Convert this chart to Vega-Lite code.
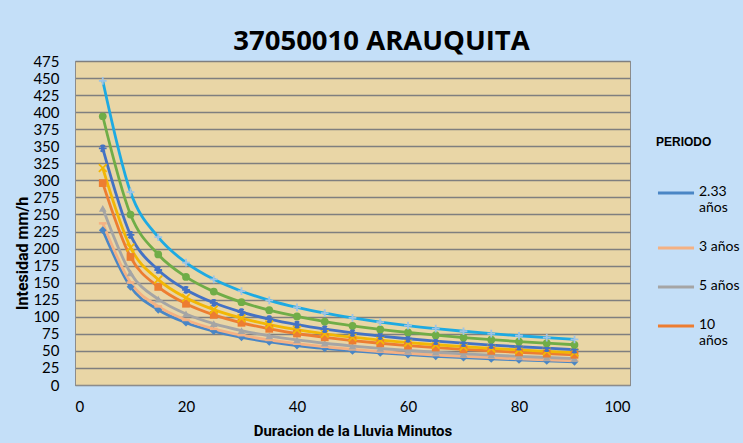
{
  "$schema": "https://vega.github.io/schema/vega-lite/v6.json",
  "width": 555,
  "height": 324,
  "autosize": {"type": "none"},
  "padding": {"left": 75, "top": 61, "right": 113, "bottom": 58},
  "background": "#C4DFF8",
  "title": {"text": "37050010 ARAUQUITA", "fontSize": 27.5, "font": "Open Sans", "fontWeight": "bold", "color": "#000000", "anchor": "middle", "dx": 29, "offset": -1},
  "config": {
    "view": {"fill": "#E9D6A6", "stroke": "#8c8c8c", "strokeWidth": 1},
    "axis": {"labelFont": "Lato", "labelFontSize": 15, "labelColor": "#000000", "titleFont": "Liberation Sans Narrow, Roboto, sans-serif", "titleFontSize": 15, "titleFontWeight": "bold", "titleColor": "#000000", "ticks": false, "domainColor": "#8c8c8c"},
    "point": {"filled": true, "size": 60, "strokeWidth": 1.6, "opacity": 1}
  },
  "data": {"values": [
    {"t":5,"s":"2.33 años","i":227},{"t":5,"s":"3 años","i":237},{"t":5,"s":"5 años","i":259},{"t":5,"s":"10 años","i":296},{"t":5,"s":"15 años","i":318},{"t":5,"s":"25 años","i":347},{"t":5,"s":"50 años","i":394},{"t":5,"s":"100 años","i":446},
    {"t":10,"s":"2.33 años","i":144.0},{"t":10,"s":"3 años","i":150.3},{"t":10,"s":"5 años","i":164.3},{"t":10,"s":"10 años","i":187.7},{"t":10,"s":"15 años","i":201.7},{"t":10,"s":"25 años","i":220.1},{"t":10,"s":"50 años","i":249.9},{"t":10,"s":"100 años","i":282.9},
    {"t":15,"s":"2.33 años","i":110.3},{"t":15,"s":"3 años","i":115.2},{"t":15,"s":"5 años","i":125.8},{"t":15,"s":"10 años","i":143.8},{"t":15,"s":"15 años","i":154.5},{"t":15,"s":"25 años","i":168.6},{"t":15,"s":"50 años","i":191.4},{"t":15,"s":"100 años","i":216.7},
    {"t":20,"s":"2.33 años","i":91.3},{"t":20,"s":"3 años","i":95.3},{"t":20,"s":"5 años","i":104.2},{"t":20,"s":"10 años","i":119.1},{"t":20,"s":"15 años","i":127.9},{"t":20,"s":"25 años","i":139.6},{"t":20,"s":"50 años","i":158.5},{"t":20,"s":"100 años","i":179.4},
    {"t":25,"s":"2.33 años","i":78.9},{"t":25,"s":"3 años","i":82.3},{"t":25,"s":"5 años","i":90.0},{"t":25,"s":"10 años","i":102.8},{"t":25,"s":"15 años","i":110.5},{"t":25,"s":"25 años","i":120.5},{"t":25,"s":"50 años","i":136.9},{"t":25,"s":"100 años","i":154.9},
    {"t":30,"s":"2.33 años","i":70.0},{"t":30,"s":"3 años","i":73.0},{"t":30,"s":"5 años","i":79.8},{"t":30,"s":"10 años","i":91.2},{"t":30,"s":"15 años","i":98.0},{"t":30,"s":"25 años","i":106.9},{"t":30,"s":"50 años","i":121.4},{"t":30,"s":"100 años","i":137.5},
    {"t":35,"s":"2.33 años","i":63.2},{"t":35,"s":"3 años","i":66.0},{"t":35,"s":"5 años","i":72.1},{"t":35,"s":"10 años","i":82.4},{"t":35,"s":"15 años","i":88.6},{"t":35,"s":"25 años","i":96.6},{"t":35,"s":"50 años","i":109.7},{"t":35,"s":"100 años","i":124.2},
    {"t":40,"s":"2.33 años","i":57.9},{"t":40,"s":"3 años","i":60.5},{"t":40,"s":"5 años","i":66.1},{"t":40,"s":"10 años","i":75.5},{"t":40,"s":"15 años","i":81.1},{"t":40,"s":"25 años","i":88.5},{"t":40,"s":"50 años","i":100.5},{"t":40,"s":"100 años","i":113.8},
    {"t":45,"s":"2.33 años","i":53.6},{"t":45,"s":"3 años","i":56.0},{"t":45,"s":"5 años","i":61.2},{"t":45,"s":"10 años","i":69.9},{"t":45,"s":"15 años","i":75.1},{"t":45,"s":"25 años","i":81.9},{"t":45,"s":"50 años","i":93.0},{"t":45,"s":"100 años","i":105.3},
    {"t":50,"s":"2.33 años","i":50.0},{"t":50,"s":"3 años","i":52.2},{"t":50,"s":"5 años","i":57.1},{"t":50,"s":"10 años","i":65.2},{"t":50,"s":"15 años","i":70.1},{"t":50,"s":"25 años","i":76.4},{"t":50,"s":"50 años","i":86.8},{"t":50,"s":"100 años","i":98.3},
    {"t":55,"s":"2.33 años","i":47.0},{"t":55,"s":"3 años","i":49.0},{"t":55,"s":"5 años","i":53.6},{"t":55,"s":"10 años","i":61.2},{"t":55,"s":"15 años","i":65.8},{"t":55,"s":"25 años","i":71.8},{"t":55,"s":"50 años","i":81.5},{"t":55,"s":"100 años","i":92.3},
    {"t":60,"s":"2.33 años","i":44.4},{"t":60,"s":"3 años","i":46.3},{"t":60,"s":"5 años","i":50.6},{"t":60,"s":"10 años","i":57.8},{"t":60,"s":"15 años","i":62.1},{"t":60,"s":"25 años","i":67.8},{"t":60,"s":"50 años","i":77.0},{"t":60,"s":"100 años","i":87.1},
    {"t":65,"s":"2.33 años","i":42.1},{"t":65,"s":"3 años","i":43.9},{"t":65,"s":"5 años","i":48.0},{"t":65,"s":"10 años","i":54.9},{"t":65,"s":"15 años","i":59.0},{"t":65,"s":"25 años","i":64.3},{"t":65,"s":"50 años","i":73.0},{"t":65,"s":"100 años","i":82.7},
    {"t":70,"s":"2.33 años","i":40.1},{"t":70,"s":"3 años","i":41.9},{"t":70,"s":"5 años","i":45.7},{"t":70,"s":"10 años","i":52.3},{"t":70,"s":"15 años","i":56.2},{"t":70,"s":"25 años","i":61.3},{"t":70,"s":"50 años","i":69.6},{"t":70,"s":"100 años","i":78.8},
    {"t":75,"s":"2.33 años","i":38.3},{"t":75,"s":"3 años","i":40.0},{"t":75,"s":"5 años","i":43.7},{"t":75,"s":"10 años","i":50.0},{"t":75,"s":"15 años","i":53.7},{"t":75,"s":"25 años","i":58.6},{"t":75,"s":"50 años","i":66.5},{"t":75,"s":"100 años","i":75.3},
    {"t":80,"s":"2.33 años","i":36.7},{"t":80,"s":"3 años","i":38.3},{"t":80,"s":"5 años","i":41.9},{"t":80,"s":"10 años","i":47.9},{"t":80,"s":"15 años","i":51.5},{"t":80,"s":"25 años","i":56.1},{"t":80,"s":"50 años","i":63.7},{"t":80,"s":"100 años","i":72.2},
    {"t":85,"s":"2.33 años","i":35.3},{"t":85,"s":"3 años","i":36.9},{"t":85,"s":"5 años","i":40.3},{"t":85,"s":"10 años","i":46.0},{"t":85,"s":"15 años","i":49.4},{"t":85,"s":"25 años","i":54.0},{"t":85,"s":"50 años","i":61.3},{"t":85,"s":"100 años","i":69.4},
    {"t":90,"s":"2.33 años","i":34.0},{"t":90,"s":"3 años","i":35.5},{"t":90,"s":"5 años","i":38.8},{"t":90,"s":"10 años","i":44.3},{"t":90,"s":"15 años","i":47.6},{"t":90,"s":"25 años","i":51.9},{"t":90,"s":"50 años","i":59.0},{"t":90,"s":"100 años","i":66.8}
  ]},
  "encoding": {
    "x": {"field": "t", "type": "quantitative", "title": "Duracion de la Lluvia Minutos",
      "scale": {"domain": [0, 100], "nice": false},
      "axis": {"values": [0, 20, 40, 60, 80, 100], "grid": false, "labelPadding": 14, "titlePadding": 9, "domain": true}},
    "y": {"field": "i", "type": "quantitative", "title": "Intesidad mm/h",
      "scale": {"domain": [0, 475], "nice": false},
      "axis": {"values": [0, 25, 50, 75, 100, 125, 150, 175, 200, 225, 250, 275, 300, 325, 350, 375, 400, 425, 450, 475], "grid": true, "gridColor": "#7f7f7f", "gridWidth": 1.3, "labelPadding": 16, "titlePadding": 2, "titleY": 192, "titleFontSize": 16}}
  },
  "layer": [
    {"mark": {"type": "line", "strokeWidth": 2.8, "interpolate": "monotone"},
      "encoding": {
        "color": {"field": "s", "type": "nominal",
          "scale": {"domain": ["2.33 años", "3 años", "5 años", "10 años", "15 años", "25 años", "50 años", "100 años"],
            "range": ["#4A86C5", "#F4B183", "#A5A5A5", "#ED7D31", "#F2B705", "#4472C4", "#70AD47", "#1EAAE2"]},
          "legend": {"title": "PERIODO", "values": ["2.33 años", "3 años", "5 años", "10 años"], "orient": "none", "legendX": 581, "legendY": 76,
            "titleFont": "Liberation Sans, Arial, sans-serif", "titleFontSize": 12, "titleFontWeight": "bold", "titleColor": "#000000", "titlePadding": 24,
            "labelFont": "Lato", "labelFontSize": 14, "labelColor": "#000000", "labelLimit": 200, "labelBaseline": "top",
            "labelExpr": "datum.label === '2.33 años' || datum.label === '10 años' ? split(datum.label, ' ') : datum.label",
            "symbolType": "stroke", "symbolSize": 1300, "symbolStrokeWidth": 3, "rowPadding": 13, "labelOffset": 3,
            "encode": {"labels": {"update": {"dy": {"value": -8}}}}}}
      }},
    {"transform": [{"filter": "datum.s === '2.33 años'"}], "mark": {"type": "point", "shape": "diamond", "color": "#4A86C5"}},
    {"transform": [{"filter": "datum.s === '3 años'"}], "mark": {"type": "point", "shape": "stroke", "filled": false, "stroke": "#F4B183", "strokeWidth": 2.5}},
    {"transform": [{"filter": "datum.s === '5 años'"}], "mark": {"type": "point", "shape": "triangle-up", "color": "#A5A5A5"}},
    {"transform": [{"filter": "datum.s === '10 años'"}], "mark": {"type": "point", "shape": "square", "color": "#ED7D31"}},
    {"transform": [{"filter": "datum.s === '15 años'"}], "mark": {"type": "point", "shape": "M-1,-1L1,1M-1,1L1,-1", "filled": false, "stroke": "#F2B705", "strokeWidth": 1.8}},
    {"transform": [{"filter": "datum.s === '25 años'"}], "mark": {"type": "point", "shape": "M-1,0L1,0M-0.5,-0.87L0.5,0.87M-0.5,0.87L0.5,-0.87M0,-1L0,1", "filled": false, "stroke": "#4472C4", "strokeWidth": 1.8}},
    {"transform": [{"filter": "datum.s === '50 años'"}], "mark": {"type": "point", "shape": "circle", "color": "#70AD47"}},
    {"transform": [{"filter": "datum.s === '100 años'"}], "mark": {"type": "point", "shape": "M-1,0L1,0M0,-1L0,1", "filled": false, "stroke": "#9DC3E6", "strokeWidth": 1.8}}
  ]
}
